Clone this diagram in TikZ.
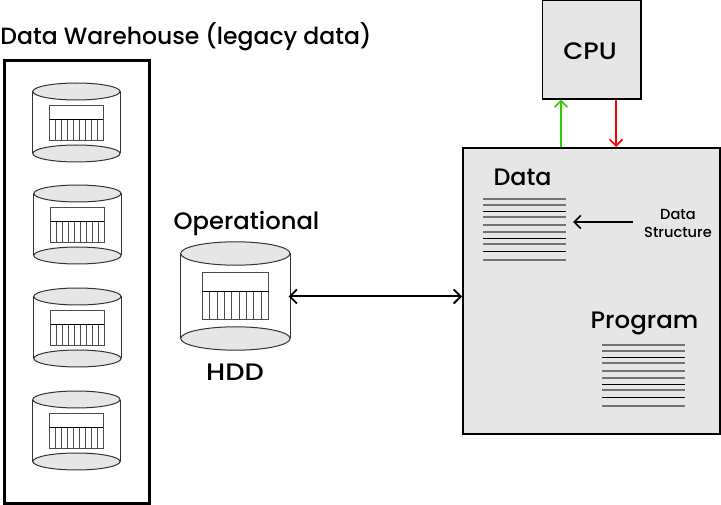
\documentclass[tikz,border=0pt]{standalone}
\usepackage{fontspec}
\setmainfont{Poppins Medium}
\usetikzlibrary{arrows.meta}
\definecolor{panel}{HTML}{E6E6E6}
\tikzset{
  darkrule/.style={line width=1pt,black},
  softrule/.style={line width=1.6pt,black!55},
  barb/.style={line width=1.6pt,-{Straight Barb[length=6.5pt,width=13pt,line width=1.6pt]}},
  barbboth/.style={line width=2pt,{Straight Barb[length=7pt,width=14pt,line width=1.8pt]}-{Straight Barb[length=7pt,width=14pt,line width=1.8pt]}},
  biglabel/.style={anchor=base,inner sep=0pt,font=\fontsize{23.8}{28}\selectfont},
  smalllabel/.style={anchor=base,inner sep=0pt,font=\fontsize{14.6}{17}\selectfont},
  cylline/.style={line width=1pt,draw=black!80},
  cylcap/.style={cylline,fill=panel},
  tableline/.style={line width=.9pt,draw=black!70},
}
% cx, rx, top cy, bottom cy, ry, table half width, table top, divider, table bottom
\newcommand{\dbcyl}[9]{%
  \draw[cylline] (#1-#2,#3) -- (#1-#2,#4) (#1+#2,#3) -- (#1+#2,#4);
  \draw[cylcap] (#1,#4) ellipse [x radius=#2,y radius=#5];
  \draw[cylcap] (#1,#3) ellipse [x radius=#2,y radius=#5];
  \foreach \k in {1,...,8}
    \draw[tableline] ({#1-#6+\k*2*#6/9},#8) -- ({#1-#6+\k*2*#6/9},#9);
  \draw[tableline] (#1-#6,#7) rectangle (#1+#6,#9);
  \draw[line width=.8pt,black] (#1-#6,#8) -- (#1+#6,#8);
}
\newcommand{\rulestack}[3]{%
  \foreach \yy in {199,205,217,225,232,244,260}
    \draw[softrule] (#1,\yy+#3) -- (#2,\yy+#3);
  \foreach \yy in {211.5,238.5,251.5}
    \draw[darkrule] (#1,\yy+#3) -- (#2,\yy+#3);
}
\begin{document}
\begin{tikzpicture}[x=1pt,y=-1pt]
\useasboundingbox (0,0) rectangle (721,505);
% panels
\node[draw=black,line width=3pt,minimum width=145pt,minimum height=442pt,inner sep=0pt] (warehouse) at (76.5,282) {};
\node[draw=black,fill=panel,line width=2pt,minimum width=257pt,minimum height=286pt,inner sep=0pt] (memory) at (591.5,291) {};
\node[draw=black,fill=panel,line width=1.2pt,minimum width=98.5pt,minimum height=99pt,inner sep=0pt] (cpu) at (591.75,49.5) {};
\node[biglabel] (cpulabel) at (590,60) {\scalebox{1.09}[1]{CPU}};
% warehouse cylinders
\dbcyl{76.4}{43.6}{91.5}{153.5}{8.5}{26.7}{105.5}{119.5}{140.5}
\dbcyl{77.4}{43.6}{193.5}{255.5}{8.5}{26.7}{207.5}{221.5}{242.5}
\dbcyl{77.4}{43.6}{296.5}{358.5}{8.5}{26.7}{310.5}{324.5}{345.5}
\dbcyl{76.4}{43.6}{399.5}{461.5}{8.5}{26.7}{413.5}{427.5}{448.5}
% operational cylinder
\dbcyl{235.4}{54.7}{253.5}{338.5}{11.7}{33.2}{272.7}{291.3}{319.7}
\node[minimum width=108pt,minimum height=108.4pt,inner sep=0pt] (hdd) at (234.4,296.5) {};
% rules
\rulestack{483}{566}{0}
\rulestack{602}{685}{146}
\node[minimum width=83pt,minimum height=61pt,inner sep=0pt] (datarules) at (524.5,229.5) {};
% labels
\node[biglabel,font=\fontsize{23.5}{28}\selectfont] (wtitle) at (186,45) {Data Warehouse (legacy data)};
\node[biglabel] (optitle) at (246.5,230) {\scalebox{1.02}[1]{Operational}};
\node[biglabel] (hddtitle) at (235,381) {\scalebox{1.14}[1]{HDD}};
\node[biglabel] (datatitle) at (522.5,186) {Data};
\node[biglabel] (progtitle) at (644.5,329) {\scalebox{1.03}[1]{Program}};
\node[smalllabel] (dsa) at (678,219.5) {Data};
\node[smalllabel] (dsb) at (678,237.5) {Structure};
\coordinate (dsfoot) at (632.5,222);
\coordinate (gx) at (561,0);
\coordinate (rx) at (616,0);
% connectors
\draw[barbboth] (hdd.east) -- (hdd.east -| memory.west);
\draw[barb] (dsfoot) -- ([xshift=7pt]dsfoot -| datarules.east);
\draw[barb,draw={rgb,255:red,51;green,204;blue,0}] (gx |- memory.north) -- (gx |- cpu.south);
\draw[barb,draw={rgb,255:red,255;green,0;blue,0}] (rx |- cpu.south) -- (rx |- memory.north);
\end{tikzpicture}
\end{document}
